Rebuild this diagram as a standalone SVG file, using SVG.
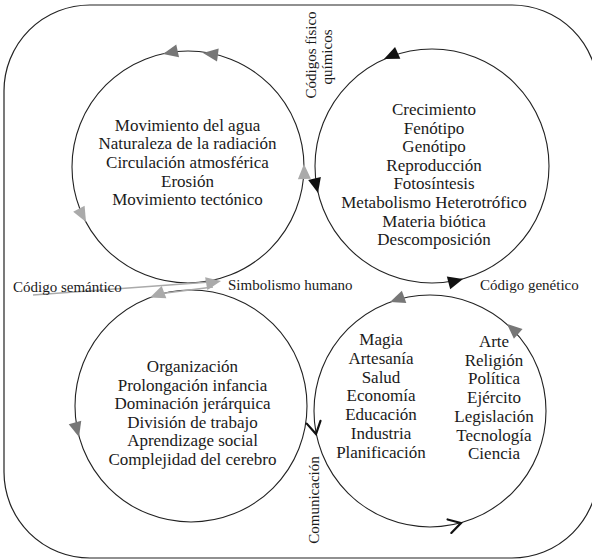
<svg xmlns="http://www.w3.org/2000/svg" xmlns:xlink="http://www.w3.org/1999/xlink" width="592" height="560" viewBox="0 0 592 560">
  <style>
    .frame { fill: none; stroke: #222; stroke-width: 1.2; }
    .ring { fill: none; stroke: #222; stroke-width: 1.1; }
    .body { font-family: "Liberation Serif", "Times New Roman", serif; font-size: 17px; fill: #1a1a1a; text-anchor: middle; }
    .lbl { font-family: "Liberation Serif", "Times New Roman", serif; font-size: 15px; fill: #1a1a1a; }
    .dark { fill: #777; }
    .light { fill: #aaa; }
    .black { fill: #111; }
    .chev { fill: none; stroke: #111; stroke-width: 2.2; stroke-linecap: round; stroke-linejoin: miter; }
    .link { fill: none; stroke: #aaa; stroke-width: 1.4; }
  </style>
  <defs>
    <!-- arrowheads drawn pointing along +x with the tip at the origin -->
    <path id="tri" d="M0,0 L-15,-6.5 L-15,6.5 Z"/>
    <path id="chevron" d="M-12,-7 L0,0 L-12,7"/>
  </defs>

  <rect class="frame" x="4" y="5" width="594" height="553" rx="86" ry="86"/>

  <g id="fisico">
    <circle class="ring" cx="188" cy="167" r="116"/>
    <text class="body" x="187.5" y="130.5">Movimiento del agua</text>
    <text class="body" x="187.5" y="149.2">Naturaleza de la radiación</text>
    <text class="body" x="187.5" y="167.9">Circulación atmosférica</text>
    <text class="body" x="187.5" y="186.6">Erosión</text>
    <text class="body" x="187.5" y="205.3">Movimiento tectónico</text>
  </g>

  <g id="biologico">
    <circle class="ring" cx="432" cy="166" r="117"/>
    <text class="body" x="434" y="115">Crecimiento</text>
    <text class="body" x="434" y="133.6">Fenótipo</text>
    <text class="body" x="434" y="152.2">Genótipo</text>
    <text class="body" x="434" y="170.8">Reproducción</text>
    <text class="body" x="434" y="189.4">Fotosíntesis</text>
    <text class="body" x="434" y="208">Metabolismo Heterotrófico</text>
    <text class="body" x="434" y="226.6">Materia biótica</text>
    <text class="body" x="434" y="245.2">Descomposición</text>
  </g>

  <g id="social">
    <circle class="ring" cx="191" cy="406" r="116"/>
    <text class="body" x="192.5" y="372">Organización</text>
    <text class="body" x="192.5" y="390.5">Prolongación infancia</text>
    <text class="body" x="192.5" y="409">Dominación jerárquica</text>
    <text class="body" x="192.5" y="427.5">División de trabajo</text>
    <text class="body" x="192.5" y="446">Aprendizage social</text>
    <text class="body" x="192.5" y="464.5">Complejidad del cerebro</text>
  </g>

  <g id="cultural">
    <circle class="ring" cx="430" cy="411" r="116"/>
    <text class="body" x="381" y="345">Magia</text>
    <text class="body" x="381" y="363.8">Artesanía</text>
    <text class="body" x="381" y="382.6">Salud</text>
    <text class="body" x="381" y="401.4">Economía</text>
    <text class="body" x="381" y="420.2">Educación</text>
    <text class="body" x="381" y="439">Industria</text>
    <text class="body" x="381" y="457.8">Planificación</text>
    <text class="body" x="494" y="347">Arte</text>
    <text class="body" x="494" y="365.7">Religión</text>
    <text class="body" x="494" y="384.4">Política</text>
    <text class="body" x="494" y="403.1">Ejército</text>
    <text class="body" x="494" y="421.8">Legislación</text>
    <text class="body" x="494" y="440.5">Tecnología</text>
    <text class="body" x="494" y="459.2">Ciencia</text>
  </g>

  <g id="connectors">
    <!-- semantic code link into the physical and social cycles -->
    <path class="link" d="M33,295 L210,282"/>
    <path class="link" d="M213,287 L158,294"/>

    <!-- physical cycle -->
    <use xlink:href="#tri" class="dark" transform="translate(163,54) rotate(167.6)"/>
    <use xlink:href="#tri" class="dark" transform="translate(203,53) rotate(187.4)"/>
    <use xlink:href="#tri" class="light" transform="translate(86,222) rotate(61.7)"/>
    <use xlink:href="#tri" class="light" transform="translate(304,164) rotate(-91.5)"/>
    <use xlink:href="#tri" class="light" transform="translate(221,281) rotate(-10)"/>

    <!-- biological cycle -->
    <use xlink:href="#tri" class="black" transform="translate(384,59) rotate(156)"/>
    <use xlink:href="#tri" class="black" transform="translate(318,193) rotate(76.6)"/>
    <use xlink:href="#tri" class="black" transform="translate(463,279) rotate(-15)"/>

    <!-- social cycle -->
    <use xlink:href="#tri" class="light" transform="translate(150,297.5) rotate(159)"/>
    <use xlink:href="#tri" class="dark" transform="translate(79,437) rotate(74.5)"/>

    <!-- cultural cycle -->
    <use xlink:href="#tri" class="dark" transform="translate(390,302) rotate(160)"/>
    <use xlink:href="#tri" class="dark" transform="translate(507,324) rotate(221.5)"/>
    <use xlink:href="#chevron" class="chev" transform="translate(316,434) rotate(78.6)"/>
    <use xlink:href="#chevron" class="chev" transform="translate(461,523) rotate(-15.5)"/>
  </g>

  <g id="labels">
    <text class="lbl" transform="translate(316,55) rotate(-90)" text-anchor="middle">Códigos físico</text>
    <text class="lbl" transform="translate(332,57) rotate(-90)" text-anchor="middle">químicos</text>
    <text class="lbl" x="13" y="292">Código semántico</text>
    <text class="lbl" x="228" y="290">Simbolismo humano</text>
    <text class="lbl" x="480" y="290">Código genético</text>
    <text class="lbl" transform="translate(319,500) rotate(-90)" text-anchor="middle">Comunicación</text>
  </g>
</svg>
